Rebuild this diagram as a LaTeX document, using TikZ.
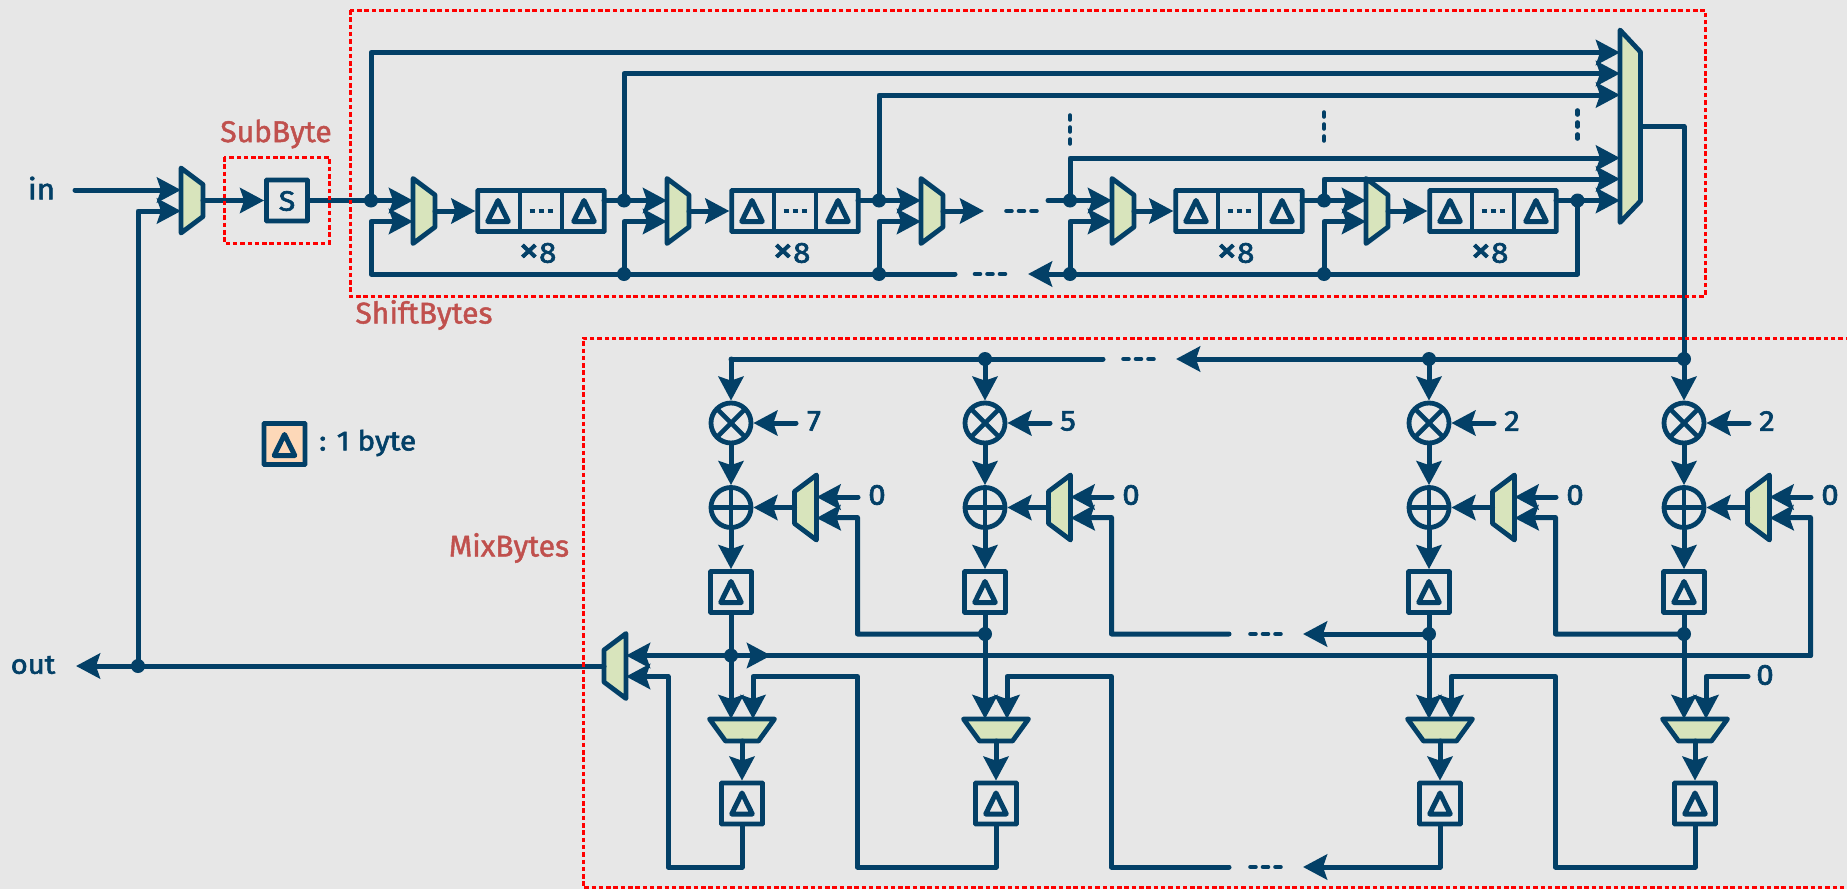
\documentclass[tikz,border=0pt]{standalone}
\usepackage{fontspec}
\setmainfont{Fira Sans}
\newfontfamily\lblfont{Fira Sans}[FakeBold=2.2,FakeStretch=1.08]
\newfontfamily\redfont{Fira Sans}[FakeBold=1.5]
\usetikzlibrary{arrows.meta}
\definecolor{bgc}{HTML}{E7E7E7}
\definecolor{ink}{HTML}{034067}
\definecolor{muxc}{HTML}{D8E4BC}
\definecolor{redt}{HTML}{C0504D}
\definecolor{legc}{HTML}{FDD8B8}
\tikzset{
  wire/.style={draw=ink,line width=5pt,line join=round,line cap=round},
  arr/.style={wire,-{Stealth[length=24pt,width=25pt,inset=4pt]}},
  muxshape/.style={draw=ink,fill=muxc,line width=4.8pt,line join=round},
  regcell/.style={draw=ink,line width=4.8pt,minimum width=41pt,minimum height=41pt,inner sep=0pt,rectangle,rounded corners=0.5pt},
  opcircle/.style={draw=ink,line width=4.8pt,circle,minimum size=40pt,inner sep=0pt},
  jdot/.style={circle,fill=ink,minimum size=14pt,inner sep=0pt},
  redbox/.style={draw=red,line width=3pt,dash pattern=on 4.5pt off 2.8pt},
  redlabel/.style={text=redt,font=\redfont\fontsize{30}{30}\selectfont,inner sep=0pt},
  lbl/.style={text=ink,font=\lblfont\fontsize{29}{29}\selectfont,inner sep=0pt},
  ellh/.style={draw=ink,line width=4.6pt,line cap=round,dash pattern=on 5pt off 7.5pt},
  ellv/.style={draw=ink,line width=4.6pt,line cap=round,dash pattern=on 4pt off 8pt},
}
% right-facing mux: name, cx, cy
\newcommand{\muxR}[3]{%
  \draw[muxshape] (#2-11,#3-32.5) -- (#2+11,#3-16) -- (#2+11,#3+16) -- (#2-11,#3+32.5) -- cycle;
  \node[inner sep=0pt,minimum width=22pt,minimum height=65pt] (#1) at (#2,#3) {};
  \coordinate (#1-a) at (#2-11,#3-10.5);
  \coordinate (#1-b) at (#2-11,#3+10.5);
  \coordinate (#1-o) at (#2+11,#3);
}
% left-facing mux
\newcommand{\muxL}[3]{%
  \draw[muxshape] (#2+11,#3-32.5) -- (#2-11,#3-16) -- (#2-11,#3+16) -- (#2+11,#3+32.5) -- cycle;
  \node[inner sep=0pt,minimum width=22pt,minimum height=65pt] (#1) at (#2,#3) {};
  \coordinate (#1-a) at (#2+11,#3-10.5);
  \coordinate (#1-b) at (#2+11,#3+10.5);
  \coordinate (#1-o) at (#2-11,#3);
}
% down-facing mux
\newcommand{\muxD}[3]{%
  \draw[muxshape] (#2-32.5,#3-11) -- (#2+32.5,#3-11) -- (#2+16.5,#3+11) -- (#2-16.5,#3+11) -- cycle;
  \node[inner sep=0pt,minimum width=65pt,minimum height=22pt] (#1) at (#2,#3) {};
  \coordinate (#1-a) at (#2-11,#3-11);
  \coordinate (#1-b) at (#2+11,#3-11);
  \coordinate (#1-o) at (#2,#3+11);
}
\newcommand{\tri}[2]{%
  \draw[draw=ink,line width=5pt,line join=round] (#1,#2-10.5) -- (#1+10.3,#2+10.5) -- (#1-10.3,#2+10.5) -- cycle;
}
% single register
\newcommand{\regone}[3]{%
  \node[regcell] (#1) at (#2,#3) {};
  \tri{#2}{#3}
}
% long register
\newcommand{\reglong}[3]{%
  \node[regcell,minimum width=126.5pt] (#1) at (#2,#3) {};
  \draw[wire,line width=4.8pt,line cap=butt] (#2-21,#3-20.5) -- (#2-21,#3+20.5);
  \draw[wire,line width=4.8pt,line cap=butt] (#2+21,#3-20.5) -- (#2+21,#3+20.5);
  \tri{#2-43}{#3}
  \tri{#2+43}{#3}
  \draw[draw=ink,line width=3.2pt,dash pattern=on 5.5pt off 3.5pt] (#2-11.5,#3) -- (#2+11.5,#3);
  \node[lbl] (#1-x) at (#2-3.5,#3+42) {{\fontsize{38}{29}\selectfont ×}8};
  \coordinate (#1-o) at (#2+63,#3-10.5);
}
\newcommand{\jn}[3]{\node[jdot] (#1) at (#2,#3) {};}
% column of MixBytes: index, x, multiplier constant
\newcommand{\mixcol}[3]{%
  \coordinate (kt#1) at (#2,359);
  \node[opcircle] (M#1) at (#2,423) {};
  \draw[draw=ink,line width=4.6pt] (#2-14.5,423-14.5) -- (#2+14.5,423+14.5) (#2-14.5,423+14.5) -- (#2+14.5,423-14.5);
  \node[opcircle] (A#1) at (#2,507.5) {};
  \draw[draw=ink,line width=4.6pt] (#2-20,507.5) -- (#2+20,507.5) (#2,487.5) -- (#2,527.5);
  \regone{R#1}{#2}{592}
  \muxL{ma#1}{#2+74.5}{507.5}
  \muxD{md#1}{#2+11}{730}
  \regone{S#1}{#2+11}{803.5}
  \coordinate (cm#1) at (#2+65,423);
  \coordinate (cz#1) at (#2+127,497);
  \coordinate (ret#1) at (#2+126.5,517.5);
  \coordinate (rbt#1) at (#2+126.5,676.5);
  \coordinate (mdc#1) at (#2+22,676.5);
  \node[lbl] (tc#1) at (#2+83,421) {#3};
  \node[lbl] (tz#1) at (#2+146,495) {0};
  \draw[arr] (kt#1) -- (M#1);
  \draw[arr] (M#1) -- (A#1);
  \draw[arr] (A#1) -- (R#1);
  \draw[arr] (cm#1) -- (M#1);
  \draw[arr] (ma#1-o) -- (A#1);
  \draw[arr] (cz#1) -- (ma#1-a);
  \draw[arr] (R#1.south) -- (md#1-a);
  \draw[arr] (md#1-o) -- (S#1);
}
\begin{document}
\begin{tikzpicture}[x=1pt,y=-1pt]
\useasboundingbox[fill=bgc] (0,0) rectangle (1847,889);
\node[redlabel] (tsub) at (276,134) {SubByte};
\node[redlabel] (tshift) at (424,315) {ShiftBytes};
\node[redlabel] (tmix) at (509,548) {MixBytes};
% ---- input part
\node[lbl] (tin) at (41.5,188) {in};
\node[lbl,font=\lblfont\fontsize{27}{27}\selectfont] (tout) at (33,665) {out};
\muxR{mi}{192}{200.5}
\node[regcell] (sbox) at (287,200.5) {};
\node[lbl,font=\lblfont\fontsize{28}{28}\selectfont] (ts) at (287,201) {S};
\coordinate (instart) at (75,190);
\draw[arr] (instart) -- (mi-a);
\draw[arr] (mi-o) -- (sbox);
% ---- shift stages
\muxR{ms1}{424}{211}
\muxR{ms2}{678}{211}
\muxR{ms2b}{932}{211}
\muxR{ms3}{1123}{211}
\muxR{ms4}{1377}{211}
\reglong{r1}{541}{211}
\reglong{r2}{795}{211}
\reglong{r3}{1239}{211}
\reglong{r4}{1493}{211}
\draw[arr] (ms1-o) -- (r1);
\draw[arr] (ms2-o) -- (r2);
\draw[arr] (ms3-o) -- (r3);
\draw[arr] (ms4-o) -- (r4);
\coordinate (tipa) at (984,211);
\draw[arr] (ms2b-o) -- (tipa);
% big mux
\draw[muxshape] (1620,30) -- (1640.5,52) -- (1640.5,201) -- (1620,222.5) -- cycle;
\node[inner sep=0pt,minimum width=20pt,minimum height=192pt] (bigmux) at (1630,126) {};
\foreach \i/\yy in {1/52.5,2/73.5,3/95,4/158,5/179,6/200.5}{\coordinate (bm\i) at (1620,\yy);}
\coordinate (bmo) at (1640.5,126.5);
% junctions upper
\jn{j1}{371}{200.5}
\jn{j2}{624}{200.5}
\jn{j3}{879}{200.5}
\jn{j4}{1070}{200.5}
\jn{j5}{1324}{200.5}
\jn{j6}{1577.5}{200.5}
\jn{f2}{624}{274}
\jn{f3}{879}{274}
\jn{f4}{1070}{274}
\jn{f5}{1324}{274}
\coordinate (stub) at (1048,200.5);
\coordinate (tipb) at (1028,274);
\coordinate (ends) at (955,274);
\coordinate (fc1) at (371,274);
% wires
\draw[wire] (sbox) -- (j1.center);
\draw[arr] (j1.center) -- (ms1-a);
\draw[arr] (j1.center) |- (bm1);
\draw[wire] (r1-o) -- (j2.center);
\draw[arr] (j2.center) -- (ms2-a);
\draw[arr] (j2.center) |- (bm2);
\draw[wire] (r2-o) -- (j3.center);
\draw[arr] (j3.center) -- (ms2b-a);
\draw[arr] (j3.center) |- (bm3);
\draw[wire] (stub) -- (j4.center);
\draw[arr] (j4.center) -- (ms3-a);
\draw[arr] (j4.center) |- (bm4);
\draw[wire] (r3-o) -- (j5.center);
\draw[arr] (j5.center) -- (ms4-a);
\draw[arr] (j5.center) |- (bm5);
\draw[wire] (r4-o) -- (j6.center);
\draw[arr] (j6.center) -- (bm6);
\draw[arr] (j6.center) |- (tipb);
\draw[arr] (f5.center) |- (ms4-b);
\draw[arr] (f4.center) |- (ms3-b);
\draw[arr] (f3.center) |- (ms2b-b);
\draw[arr] (f2.center) |- (ms2-b);
\draw[arr] (ends) -- (fc1) |- (ms1-b);
% horizontal ellipses, upper part
\coordinate (e1a) at (1006.5,211); \coordinate (e1b) at (1036.5,211);
\coordinate (e2a) at (975,274); \coordinate (e2b) at (1005,274);
\draw[ellh] (e1a) -- (e1b);
\draw[ellh] (e2a) -- (e2b);
% vertical ellipses
\coordinate (v1a) at (1070,115.5); \coordinate (v1b) at (1070,143.5);
\coordinate (v2a) at (1324,112.5); \coordinate (v2b) at (1324,140.5);
\coordinate (v3a) at (1577.5,110.5); \coordinate (v3b) at (1577.5,138.5);
\draw[ellv] (v1a) -- (v1b);
\draw[ellv] (v2a) -- (v2b);
\draw[ellv] (v3a) -- (v3b);
% legend
\node[regcell,fill=legc] (leg) at (284.5,444) {};
\tri{284.5}{445}
\node[lbl,anchor=west,font=\lblfont\fontsize{27.5}{27.5}\selectfont] (legt) at (319,443) {: 1 byte};
% ---- MixBytes
\mixcol{1}{731}{7}
\mixcol{2}{985}{5}
\mixcol{3}{1429}{2}
\mixcol{4}{1684}{2}
\muxL{mo}{615}{666}
\jn{kj2}{985}{359}
\jn{kj3}{1429}{359}
\jn{kj4}{1684}{359}
\jn{bj2}{985}{634}
\jn{bj3}{1429}{634}
\jn{bj4}{1684}{634}
\jn{jmid}{731}{655.5}
\jn{jo}{138}{666}
\coordinate (bot) at (0,867);
% from big mux to the MixBytes row
\draw[wire] (bmo) -| (kj4.center);
\coordinate (ktip) at (1176,359);
\coordinate (kend) at (1103,359);
\draw[arr] (kj4.center) -- (ktip);
\draw[wire] (kend) -- (kt1);
\coordinate (e3a) at (1123.5,359); \coordinate (e3b) at (1153.5,359);
\draw[ellh] (e3a) -- (e3b);
% row y=634
\coordinate (btip) at (1303,634);
\coordinate (bend) at (1229,634);
\draw[arr] (bj3.center) -- (btip);
\draw[arr] (bj2.center) -| (ret1) -- (ma1-b);
\draw[arr] (bend) -| (ret2) -- (ma2-b);
\draw[arr] (bj4.center) -| (ret3) -- (ma3-b);
\coordinate (e4a) at (1250.5,634); \coordinate (e4b) at (1280.5,634);
\draw[ellh] (e4a) -- (e4b);
% row y=655 
\coordinate (rtip) at (771,655.5);
\draw[wire] (ret4 |- jmid) -- (jmid.center);
\draw[arr] (ret4 |- jmid) -- (ret4) -- (ma4-b);
\draw[arr] (jmid.center) -- (mo-a);
\draw[arr] (jmid.center) -- (rtip);
% out
\coordinate (outtip) at (76,666);
\draw[arr] (mo-o) -- (outtip);
\draw[arr] (jo.center) |- (mi-b);
% bottom loops
\draw[arr] (S2) |- (rbt1 |- bot) -- (rbt1) -- (mdc1) -- (md1-b);
\draw[arr] (S4) |- (rbt3 |- bot) -- (rbt3) -- (mdc3) -- (md3-b);
\coordinate (lp) at (668,676.5);
\draw[arr] (S1) |- (lp |- bot) -- (lp) -- (mo-b);
\coordinate (ltip) at (1303,867);
\coordinate (lend) at (1229,867);
\draw[arr] (S3) |- (ltip);
\draw[arr] (lend) -| (rbt2) -- (mdc2) -- (md2-b);
\coordinate (e5a) at (1250.5,867); \coordinate (e5b) at (1280.5,867);
\draw[ellh] (e5a) -- (e5b);
\coordinate (z4) at (1748,676.5);
\draw[arr] (z4) -- (mdc4) -- (md4-b);
\node[lbl] (tz4b) at (1765,675) {0};
% red boxes
\draw[redbox] (224,157) rectangle (329,243);
\draw[redbox] (350,10) rectangle (1705,296);
\draw[redbox] (1850,338) -- (583,338) -- (583,887.5) -- (1850,887.5);
\end{tikzpicture}
\end{document}
